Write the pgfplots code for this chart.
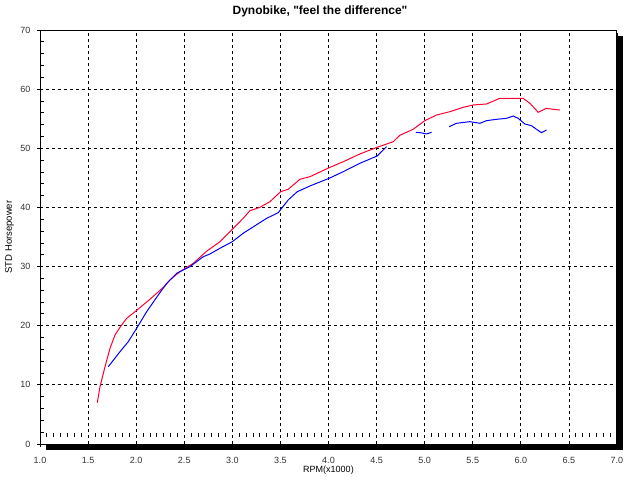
\documentclass[border=0pt]{standalone}
\usepackage{pgfplots}
\pgfplotsset{compat=1.18}
\usepackage{fontspec}
\setmainfont{Liberation Sans}
\newfontfamily\plainfont{Liberation Sans}
\definecolor{redline}{RGB}{255,0,51}
\definecolor{blueline}{RGB}{0,0,255}
\begin{document}
\begin{tikzpicture}
\useasboundingbox (0,0) rectangle (640pt,480pt);
\fill[white] (0,0) rectangle (640pt,480pt);
\begin{axis}[
  at={(40pt,36pt)}, anchor=south west,
  scale only axis, width=577pt, height=414pt,
  xmin=1, xmax=7, ymin=0, ymax=70,
  xtick={1,1.5,2,2.5,3,3.5,4,4.5,5,5.5,6,6.5,7},
  ytick={0,10,20,30,40,50,60,70},
  minor x tick num=6, minor y tick num=4,
  xtick pos=bottom, ytick pos=left, tick align=inside,
  major tick length=3pt, minor tick length=4pt,
  minor x tick style={yshift=7pt},
  major y tick style={xshift=-3pt},
  major x tick style={yshift=-3pt},
  xmajorgrids, ymajorgrids,
  major grid style={black, line width=0.8pt, dash pattern=on 3pt off 3pt},
  axis line style={black, line width=1pt},
  tick style={black, line width=0.8pt},
  /pgf/number format/assume math mode=true,
  tick label style={font=\fontsize{9}{10}\selectfont, text=black!80},
  xticklabel style={/pgf/number format/.cd, fixed, fixed zerofill, precision=1, /tikz/.cd, yshift=-10pt},
  yticklabel style={xshift=-6pt},
  xlabel={RPM(x1000)},
  xlabel style={font=\fontsize{9}{10}\selectfont, at={(axis description cs:0.5,-0.063)}, anchor=center},
  ylabel={STD Horsepower},
  ylabel style={font=\fontsize{9.5}{10}\selectfont, at={(axis description cs:-0.053,0.5)}, anchor=center},
  every axis plot/.append style={line width=1pt, no marks},
]
\addplot[redline] coordinates {
(1.596,6.98) (1.624,9.69) (1.676,13.07) (1.728,16.18) (1.780,18.43) (1.832,19.73)
(1.901,21.25) (1.988,22.37) (2.143,24.47) (2.299,26.72) (2.351,27.73) (2.455,29.13)
(2.594,30.55) (2.733,32.6) (2.871,34.2) (3.0,36.3) (3.113,38.16) (3.183,39.45)
(3.287,40.02) (3.391,40.97) (3.502,42.66) (3.581,43.07) (3.703,44.76) (3.807,45.2)
(4.007,46.72) (4.153,47.73) (4.326,49.04) (4.506,50.17) (4.673,51.11) (4.742,52.2)
(4.880,53.21) (5.002,54.67) (5.124,55.63) (5.262,56.19) (5.400,56.93) (5.504,57.32)
(5.643,57.49) (5.782,58.45) (6.024,58.45) (6.094,57.61) (6.180,56.09) (6.267,56.76)
(6.336,56.59) (6.405,56.48)
};
\addplot[blueline] coordinates {
(1.710,13.07) (1.832,15.61) (1.918,17.30) (2.005,19.56) (2.109,22.37) (2.230,25.19)
(2.317,27.17) (2.421,28.86) (2.559,29.98) (2.698,31.67) (2.767,32.13) (2.871,33.09)
(3.0,34.21) (3.113,35.63) (3.357,38.16) (3.477,39.11) (3.581,41.26) (3.675,42.66)
(3.807,43.63) (4.007,44.93) (4.153,46.04) (4.326,47.46) (4.506,48.70) (4.604,50.27)
};
\addplot[blueline] coordinates {
(4.909,52.71) (4.97,52.6) (5.020,52.42) (5.072,52.71)
};
\addplot[blueline] coordinates {
(5.255,53.65) (5.332,54.23) (5.470,54.50) (5.574,54.23) (5.643,54.67) (5.747,54.90)
(5.851,55.07) (5.920,55.46) (5.972,55.07) (6.042,54.11) (6.111,53.82) (6.163,53.21)
(6.215,52.64) (6.267,53.09)
};
\end{axis}
\node[font=\plainfont\bfseries\fontsize{12}{14}\selectfont] at (320pt,469pt) {Dynobike, "feel the difference"};
\fill[black] (46pt,30pt) rectangle (623pt,36pt);
\fill[black] (617pt,30pt) rectangle (623pt,444pt);
\end{tikzpicture}
\end{document}
